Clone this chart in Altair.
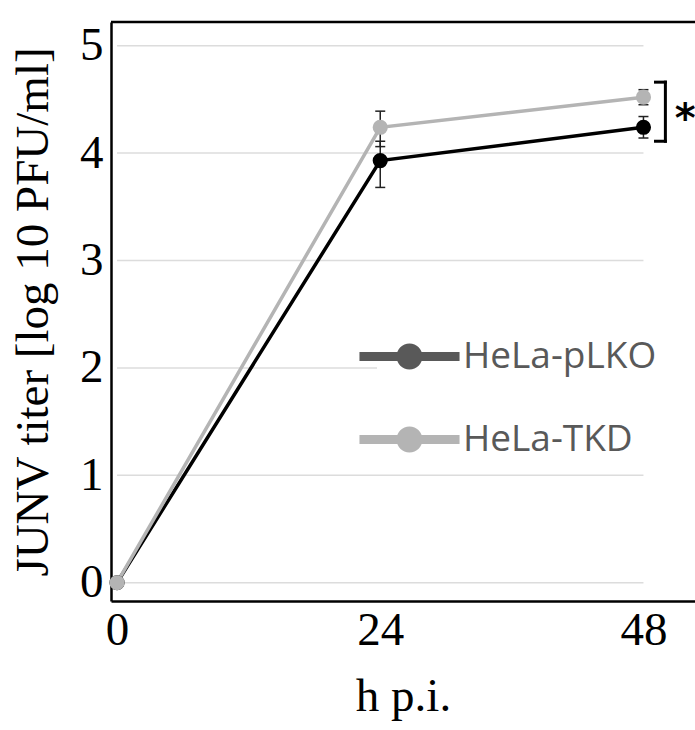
import altair as alt
import pandas as pd

# ---- data ----
hours = [0, 24, 48]
series_names = ["HeLa-pLKO", "HeLa-TKD"]
plko_mean = [0.0, 3.93, 4.24]
plko_low = [0.0, 3.68, 4.14]
plko_high = [0.0, 4.11, 4.34]
tkd_mean = [0.0, 4.24, 4.52]
tkd_low = [0.0, 4.06, 4.45]
tkd_high = [0.0, 4.39, 4.59]
y_ticks = [0, 1, 2, 3, 4, 5]
x_ticks = [0, 24, 48]
# significance bracket (annotation, data units)
bracket_x = [49.1, 50.0]
bracket_y = [4.11, 4.66]
star_label = ["*"]
star_x = [51.8]
star_y = [4.38]

line_colors = ["#000000", "#b4b4b4"]
legend_colors = ["#595959", "#b4b4b4"]

W, H = 584, 579
xdom = [-0.55, 52.7]
ydom = [-0.17, 5.22]

rows = []
for name, m, lo, hi in [(series_names[0], plko_mean, plko_low, plko_high),
                        (series_names[1], tkd_mean, tkd_low, tkd_high)]:
    for t, a, b, c in zip(hours, m, lo, hi):
        rows.append({"t": t, "series": name, "mean": a, "low": b, "high": c})
df = pd.DataFrame(rows)
df_err = df[df["t"] > 0]
caps = pd.concat([
    df_err[["t", "series", "low"]].rename(columns={"low": "v"}),
    df_err[["t", "series", "high"]].rename(columns={"high": "v"}),
])

grid_df = pd.DataFrame({"y": y_ticks, "x": [hours[0]] * len(y_ticks), "x2": [hours[-1]] * len(y_ticks)})
bracket_df = pd.DataFrame({
    "x": [bracket_x[1], bracket_x[0], bracket_x[0]],
    "x2": [bracket_x[1], bracket_x[1], bracket_x[1]],
    "y": [bracket_y[0], bracket_y[1], bracket_y[0]],
    "y2": [bracket_y[1], bracket_y[1], bracket_y[0]],
})
star_df = pd.DataFrame({"x": star_x, "y": star_y, "label": star_label})

xscale = alt.Scale(domain=xdom, nice=False, zero=False)
yscale = alt.Scale(domain=ydom, nice=False, zero=False)

x_axis = alt.Axis(values=x_ticks, format="d", ticks=False, grid=False, domainColor="black", domainWidth=2.5,
                  labelFont="Liberation Serif", labelFontSize=47, labelColor="black", labelPadding=6,
                  title="h p.i.", titleFont="Liberation Serif", titleFontSize=47, titleFontWeight="normal",
                  titleColor="black", titlePadding=20, labelFlush=False)
y_axis = alt.Axis(values=y_ticks, format="d", ticks=False, grid=False, domainColor="black", domainWidth=2.5,
                  labelFont="Liberation Serif", labelFontSize=47, labelColor="black", labelPadding=8,
                  title="JUNV titer [log 10 PFU/ml]", titleFont="Liberation Serif", titleFontSize=47,
                  titleFontWeight="normal", titleColor="black", titlePadding=22, labelFlush=False)

grid = alt.Chart(grid_df).mark_rule(color="#dcdcdc", strokeWidth=1.5).encode(
    x=alt.X("x:Q", scale=xscale, axis=x_axis),
    x2="x2:Q",
    y=alt.Y("y:Q", scale=yscale, axis=y_axis),
)

err = alt.Chart(df_err).mark_rule(color="#222222", strokeWidth=1.5).encode(
    x=alt.X("t:Q", scale=xscale), y=alt.Y("low:Q", scale=yscale), y2="high:Q"
)
cap = alt.Chart(caps).mark_tick(color="#222222", orient="horizontal", size=10, thickness=1.5, opacity=1).encode(
    x=alt.X("t:Q", scale=xscale), y=alt.Y("v:Q", scale=yscale)
)

# plotted marks: scale listed in reverse order so that it is kept apart from the legend's scale
plot_scale = alt.Scale(domain=series_names[::-1], range=line_colors[::-1])
lines = alt.Chart(df).mark_line(strokeWidth=3.5).encode(
    x=alt.X("t:Q", scale=xscale), y=alt.Y("mean:Q", scale=yscale),
    stroke=alt.Stroke("series:N", scale=plot_scale, legend=None),
    order="t:Q",
)
points = alt.Chart(df).mark_point(filled=True, size=230, opacity=1, strokeWidth=0).encode(
    x=alt.X("t:Q", scale=xscale), y=alt.Y("mean:Q", scale=yscale),
    fill=alt.Fill("series:N", scale=plot_scale, legend=None),
)

bracket = alt.Chart(bracket_df).mark_rule(color="black", strokeWidth=3, strokeCap="square").encode(
    x=alt.X("x:Q", scale=xscale), x2="x2:Q", y=alt.Y("y:Q", scale=yscale), y2="y2:Q"
)
star = alt.Chart(star_df).mark_text(font="DejaVu Sans", fontSize=40, fontWeight="bold", color="black",
                                    baseline="middle", align="center", dy=8).encode(
    x=alt.X("x:Q", scale=xscale), y=alt.Y("y:Q", scale=yscale), text="label:N"
)

frame_top = alt.Chart(pd.DataFrame({"k": [0]})).mark_rule(color="black", strokeWidth=2.5).encode(
    x=alt.value(0), x2=alt.value(W), y=alt.value(0)
)

legend_path = ("M-4.17,-0.375 H4.17 V0.375 H-4.17 Z "
               "M-1.08,0 A1.08,1.08 0 1,1 1.08,0 A1.08,1.08 0 1,1 -1.08,0 Z")
legend_layer = alt.Chart(df).mark_point(filled=True, opacity=1, shape=legend_path, size=576, strokeWidth=0).encode(
    x=alt.X("t:Q", scale=xscale), y=alt.Y("mean:Q", scale=yscale),
    color=alt.Color("series:N", scale=alt.Scale(domain=series_names, range=legend_colors),
                    legend=alt.Legend(title=None, orient="none", legendX=266, legendY=302,
                                      padding=14, fillColor="white", symbolType=legend_path,
                                      symbolSize=576, symbolStrokeWidth=0, symbolOpacity=1,
                                      labelFont="Open Sans", labelFontSize=37, labelColor="#595959",
                                      labelOffset=35, labelLimit=0, rowPadding=45)),
).transform_filter(alt.datum.t < -100)

chart = alt.layer(grid, err, cap, lines, points, bracket, star, frame_top, legend_layer).properties(
    width=W, height=H,
    autosize=alt.AutoSizeParams(type="none"),
    padding={"left": 111, "top": 22, "right": 0, "bottom": 129},
    background="white",
).configure_view(stroke=None)

chart.save("out.html", embed_options={"renderer": "svg", "actions": False})
